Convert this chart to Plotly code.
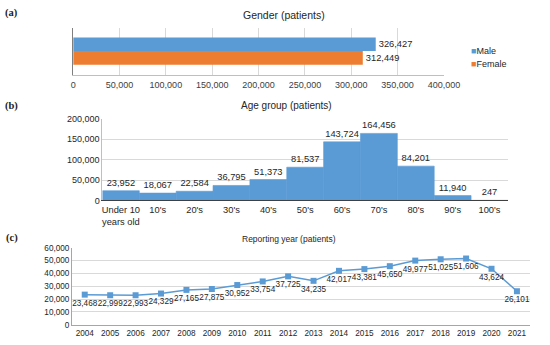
import plotly.graph_objects as go

# ---------------- data ----------------
gender_names = ["Male", "Female"]
gender_values = [326427, 312449]

age_groups = ["Under 10<br>years old", "10's", "20's", "30's", "40's", "50's",
              "60's", "70's", "80's", "90's", "100's"]
age_values = [23952, 18067, 22584, 36795, 51373, 81537, 143724, 164456, 84201, 11940, 247]

years = ["2004", "2005", "2006", "2007", "2008", "2009", "2010", "2011", "2012",
         "2013", "2014", "2015", "2016", "2017", "2018", "2019", "2020", "2021"]
year_values = [23468, 22999, 22993, 24329, 27165, 27875, 30952, 33754, 37725,
               34235, 42017, 43381, 45650, 49977, 51025, 51606, 43624, 26101]

BLUE = "#5B9BD5"
ORANGE = "#ED7D31"
gender_colors = [BLUE, ORANGE]
FONT = "Liberation Sans, Arial, sans-serif"
GRID = "#D9D9D9"
TXT = "#404040"
W, H = 550, 345


def px(x):
    return x / W


def py(y):
    return 1 - y / H


fig = go.Figure()

# ---------------- (a) gender ----------------
bw = 0.29
for i, (name, val) in enumerate(zip(gender_names, gender_values)):
    fig.add_trace(go.Bar(
        y=["Gender"], x=[val], orientation="h", name=name,
        marker=dict(color=gender_colors[i], line=dict(width=0)),
        width=bw, offset=-bw if i == 0 else 0,
        text=[f"{val:,}"], textposition="outside", constraintext="none",
        textfont=dict(family=FONT, size=9.3, color="#262626"),
        cliponaxis=False, showlegend=False, xaxis="x", yaxis="y"))

# ---------------- (b) age group ----------------
fig.add_trace(go.Bar(
    x=age_groups, y=age_values, width=1,
    marker=dict(color=BLUE, line=dict(width=0.6, color=BLUE)),
    text=[f"{v:,}" for v in age_values], textposition="outside", constraintext="none",
    textfont=dict(family=FONT, size=9.3, color="#262626"),
    cliponaxis=False, showlegend=False, xaxis="x2", yaxis="y2"))

# ---------------- (c) reporting year ----------------
fig.add_trace(go.Scatter(
    x=years, y=year_values, mode="lines+markers+text",
    line=dict(color=BLUE, width=1.5),
    marker=dict(symbol="square", size=6, color=BLUE),
    text=[f"{v:,}" for v in year_values], textposition="bottom center",
    textfont=dict(family=FONT, size=8.2, color="#262626"),
    cliponaxis=False, showlegend=False, xaxis="x3", yaxis="y3"))

tick_a = dict(family=FONT, size=9, color=TXT)
fig.update_layout(
    width=W, height=H, margin=dict(l=0, r=0, t=0, b=0),
    paper_bgcolor="white", plot_bgcolor="white",
    barmode="overlay", showlegend=False,
    font=dict(family=FONT, color=TXT),
    xaxis=dict(domain=[px(72.7), px(456.7)], anchor="y", range=[0, 400000], dtick=50000,
               tickformat=",", showgrid=True, gridcolor=GRID, gridwidth=1, zeroline=False,
               showline=True, linecolor="#BFBFBF", ticks="", tickfont=tick_a,
               ticklabelstandoff=2),
    yaxis=dict(domain=[py(71.7), py(23.3)], anchor="x", type="category",
               range=[0.5, -0.5], showticklabels=False, showgrid=False,
               showline=True, linecolor="#7F7F7F", ticks=""),
    xaxis2=dict(domain=[px(103), px(523)], anchor="y2", type="category",
                range=[-0.5, len(age_groups) - 0.5],
                showgrid=False, showline=True, linecolor="#404040", ticks="",
                tickfont=dict(family=FONT, size=9.3, color="#262626"), tickangle=0),
    yaxis2=dict(domain=[py(201.3), py(117.3)], anchor="x2", range=[0, 200000], dtick=50000,
                tickformat=",", showgrid=True, gridcolor=GRID, zeroline=False,
                showline=True, linecolor="#BFBFBF", ticks="",
                tickfont=dict(family=FONT, size=9, color="#262626")),
    xaxis3=dict(domain=[px(71.5), px(545.5)], anchor="y3", type="category",
                range=[-0.5, len(years) - 0.5],
                showgrid=False, showline=True, linecolor="#A6A6A6", ticks="",
                tickfont=dict(family=FONT, size=8.2, color="#262626"), tickangle=0),
    yaxis3=dict(domain=[py(329.3), py(250)], anchor="x3", range=[0, 60000], dtick=10000,
                tickformat=",", showgrid=True, gridcolor=GRID, zeroline=False,
                showline=True, linecolor="#A6A6A6", ticks="",
                tickfont=dict(family=FONT, size=8.2, color="#262626")),
)

ann = []
# titles
ann.append(dict(text="Gender (patients)", x=px(291), y=py(10), font=dict(family=FONT, size=10.5, color="#262626")))
ann.append(dict(text="Age group (patients)", x=px(294), y=py(103.5), font=dict(family=FONT, size=10, color="#262626")))
ann.append(dict(text="Reporting year (patients)", x=px(296), y=py(241), font=dict(family=FONT, size=8.5, color="#262626")))
# panel labels
for lab, yy in [("(a)", 8), ("(b)", 104), ("(c)", 240)]:
    ann.append(dict(text=f"<b>{lab}</b>", x=px(9), y=py(yy),
                    font=dict(family="Liberation Serif, Times New Roman, serif", size=10.5, color="#222222")))
for a in ann:
    a.update(xref="paper", yref="paper", showarrow=False, xanchor="center", yanchor="middle")
# legend (a)
for name, col, yy in [(gender_names[0], gender_colors[0], 47), (gender_names[1], gender_colors[1], 61)]:
    ann.append(dict(text=f"<span style='color:{col}'>■</span>{name}", x=px(482.5), y=py(yy),
                    xref="paper", yref="paper", showarrow=False, xanchor="left", yanchor="middle",
                    font=dict(family=FONT, size=9, color="#262626")))
fig.update_layout(annotations=ann)

fig.write_html("out.html", config={"displayModeBar": False},
               post_script="document.body.style.margin='0';document.body.style.overflow='hidden';")
